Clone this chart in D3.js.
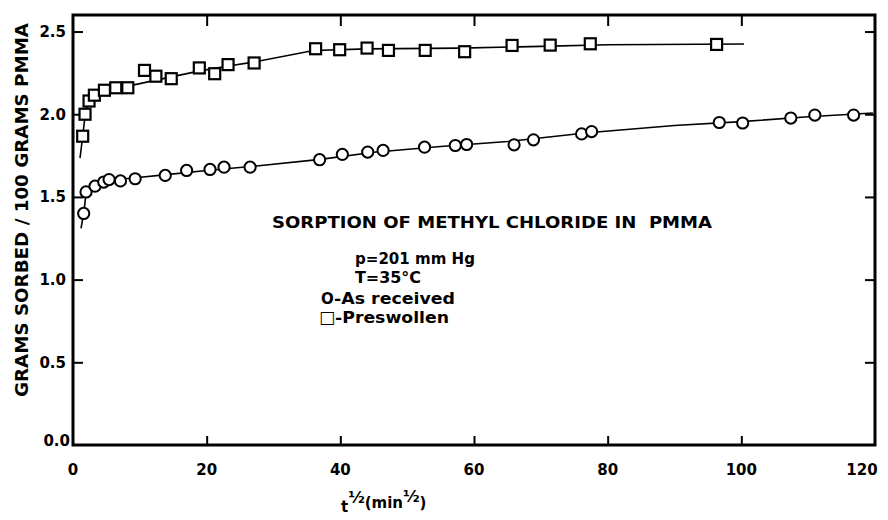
<!DOCTYPE html>
<html>
<head>
<meta charset="utf-8">
<script src="https://cdn.jsdelivr.net/npm/d3@7"></script>
<style>
  html, body { margin: 0; padding: 0; background: #fff; }
  svg { display: block; }
  text, tspan { font-family: "DejaVu Sans", sans-serif; fill: #000; }
</style>
</head>
<body>
<div id="chart"></div>
<script>
// ---- Data ----
// Circles: "As received"
const asReceivedX = [1.6, 1.95, 3.3, 4.6, 5.4, 7.1, 9.3, 13.8, 17.0, 20.5, 22.6, 26.5, 36.9, 40.3, 44.1, 46.4, 52.6, 57.2, 58.9, 66.0, 68.9, 76.1, 77.6, 96.7, 100.2, 107.4, 111.0, 116.8];
const asReceivedY = [1.40, 1.53, 1.565, 1.59, 1.605, 1.597, 1.61, 1.63, 1.66, 1.666, 1.68, 1.68, 1.725, 1.757, 1.771, 1.781, 1.801, 1.811, 1.817, 1.815, 1.845, 1.881, 1.895, 1.95, 1.947, 1.977, 1.995, 1.995];
// Squares: "Preswollen"
const preswollenX = [1.45, 1.8, 2.4, 3.2, 4.7, 6.4, 8.2, 10.7, 12.4, 14.7, 18.9, 21.2, 23.2, 27.1, 36.3, 39.9, 44.0, 47.2, 52.7, 58.6, 65.7, 71.4, 77.4, 96.3];
const preswollenY = [1.867, 2.0, 2.08, 2.115, 2.145, 2.16, 2.16, 2.265, 2.23, 2.215, 2.28, 2.245, 2.30, 2.31, 2.396, 2.39, 2.40, 2.386, 2.386, 2.378, 2.416, 2.418, 2.426, 2.422];
// Drawn curves through each series
const asReceivedCurveX = [1.2, 1.6, 1.95, 2.6, 3.3, 4.3, 5.4, 7.0, 9.0, 14.0, 20.0, 27.0, 37.0, 45.0, 55.0, 65.0, 77.0, 90.0, 100.0, 110.0, 119.7];
const asReceivedCurveY = [1.31, 1.40, 1.52, 1.55, 1.568, 1.587, 1.60, 1.607, 1.614, 1.635, 1.66, 1.685, 1.727, 1.77, 1.805, 1.835, 1.888, 1.932, 1.955, 1.985, 2.007];
const preswollenCurveX = [1.05, 1.45, 1.8, 2.1, 2.4, 3.2, 4.7, 7.0, 10.0, 14.0, 19.0, 23.0, 27.0, 36.0, 44.0, 58.0, 70.0, 80.0, 100.4];
const preswollenCurveY = [1.735, 1.867, 1.99, 2.045, 2.075, 2.113, 2.143, 2.16, 2.185, 2.22, 2.262, 2.29, 2.315, 2.385, 2.395, 2.40, 2.41, 2.42, 2.425];
// Axes
const xTicks = [0, 20, 40, 60, 80, 100, 120];
const yTicks = [0.0, 0.5, 1.0, 1.5, 2.0, 2.5];
const yTickLabels = ["0.0", "0.5", "1.0", "1.5", "2.0", "2.5"];
const titleText = "SORPTION OF METHYL CHLORIDE IN  PMMA";
const legendSymbols = ["", "", "O", "□"];
const legendLines = ["p=201 mm Hg", "T=35°C", "-As received", "-Preswollen"];
const yAxisTitle = "GRAMS SORBED / 100 GRAMS PMMA";

// ---- Layout ----
const W = 888, H = 520;
const pL = 73, pR = 875, pT = 15, pB = 445;

const svg = d3.select("#chart").append("svg").attr("width", W).attr("height", H);

const x = d3.scaleLinear().domain([0, 120]).range([pL, pR]);
const y = d3.scaleLinear().domain([0, 2.6]).range([pB, pT]);

// frame
svg.append("rect")
  .attr("x", pL).attr("y", pT)
  .attr("width", pR - pL).attr("height", pB - pT)
  .attr("fill", "none").attr("stroke", "#000").attr("stroke-width", 3);

// inner ticks via d3 axes
const innerTicksX = xTicks.filter(d => d > 0 && d < 120);
const innerTicksY = yTicks.filter(d => d > 0);

const bottomAxis = d3.axisTop(x).tickValues(innerTicksX).tickSize(9).tickFormat("");
svg.append("g").attr("transform", `translate(0,${pB})`).call(bottomAxis)
  .call(g => g.select(".domain").remove())
  .selectAll("line").attr("stroke-width", 2);

const topAxis = d3.axisBottom(x).tickValues(innerTicksX).tickSize(11).tickFormat("");
svg.append("g").attr("transform", `translate(0,${pT})`).call(topAxis)
  .call(g => g.select(".domain").remove())
  .selectAll("line").attr("stroke-width", 2);

const leftAxis = d3.axisRight(y).tickValues(innerTicksY).tickSize(10).tickFormat("");
svg.append("g").attr("transform", `translate(${pL},0)`).call(leftAxis)
  .call(g => g.select(".domain").remove())
  .selectAll("line").attr("stroke-width", 2);

const rightAxis = d3.axisLeft(y).tickValues(innerTicksY).tickSize(10).tickFormat("");
svg.append("g").attr("transform", `translate(${pR},0)`).call(rightAxis)
  .call(g => g.select(".domain").remove())
  .selectAll("line").attr("stroke-width", 2);

// tick labels
svg.append("g").selectAll("text").data(xTicks).join("text")
  .attr("x", d => d === 120 ? 862 : x(d)).attr("y", 475)
  .attr("text-anchor", "middle")
  .attr("font-size", 15).attr("font-weight", "bold")
  .text(d => d);

svg.append("g").selectAll("text").data(yTicks).join("text")
  .attr("x", (d, i) => i === 0 ? 70 : 66)
  .attr("y", (d, i) => i === 0 ? y(d) - 4 : y(d))
  .attr("dy", "0.36em")
  .attr("text-anchor", "end")
  .attr("font-size", 15)
  .attr("font-weight", "bold")
  .text((d, i) => yTickLabels[i]);

// y axis title
svg.append("text")
  .attr("transform", `translate(28,210) rotate(-90)`)
  .attr("text-anchor", "middle")
  .attr("font-size", 17).attr("font-weight", "bold")
  .attr("textLength", 374).attr("lengthAdjust", "spacingAndGlyphs")
  .text(yAxisTitle);

// x axis title: t^1/2 (min^1/2)
const xt = svg.append("text").attr("x", 341).attr("y", 512)
  .attr("font-size", 15).attr("font-weight", "bold");
xt.append("tspan").text("t");
xt.append("tspan").attr("dy", -9).attr("font-size", 16).text("½");
xt.append("tspan").attr("dy", 5).attr("font-size", 15).text("(min");
xt.append("tspan").attr("dy", -6).attr("font-size", 16).text("½");
xt.append("tspan").attr("dy", 6).attr("font-size", 15).text(")");

// curves
const line = d3.line().x(d => x(d[0])).y(d => y(d[1]));
svg.append("path")
  .datum(preswollenCurveX.map((v, i) => [v, preswollenCurveY[i]]))
  .attr("d", line).attr("fill", "none").attr("stroke", "#000").attr("stroke-width", 1.6)
  .attr("stroke-linejoin", "round");
svg.append("path")
  .datum(asReceivedCurveX.map((v, i) => [v, asReceivedCurveY[i]]))
  .attr("d", line).attr("fill", "none").attr("stroke", "#000").attr("stroke-width", 1.6)
  .attr("stroke-linejoin", "round");

// markers
const sq = 11;
svg.append("g").selectAll("rect")
  .data(preswollenX.map((v, i) => [v, preswollenY[i]]))
  .join("rect")
  .attr("x", d => x(d[0]) - sq / 2).attr("y", d => y(d[1]) - sq / 2)
  .attr("width", sq).attr("height", sq)
  .attr("fill", "#fff").attr("stroke", "#000").attr("stroke-width", 2.2);

svg.append("g").selectAll("circle")
  .data(asReceivedX.map((v, i) => [v, asReceivedY[i]]))
  .join("circle")
  .attr("cx", d => x(d[0])).attr("cy", d => y(d[1])).attr("r", 5.6)
  .attr("fill", "#fff").attr("stroke", "#000").attr("stroke-width", 2);

// annotation title
svg.append("text").attr("x", 272).attr("y", 228)
  .attr("font-size", 15).attr("font-weight", "bold")
  .attr("textLength", 440).attr("lengthAdjust", "spacingAndGlyphs")
  .style("white-space", "pre")
  .text(titleText);

// legend block
const legendX = [355, 355, 321, 319];
const legendY = [264, 283, 304, 323];
const legendLen = [120, 66, 121, 114];
const lg = svg.append("g").selectAll("text").data(legendLines).join("text")
  .attr("x", (d, i) => legendX[i]).attr("y", (d, i) => legendY[i])
  .attr("font-size", 15).attr("font-weight", "bold");
lg.each(function (d, i) {
  const t = d3.select(this);
  if (legendSymbols[i]) {
    t.append("tspan")
      .attr("font-size", legendSymbols[i] === "□" ? 17 : 15)
      .attr("font-weight", legendSymbols[i] === "□" ? "normal" : "bold")
      .style("fill", "#000")
      .text(legendSymbols[i]);
  }
  t.append("tspan")
    .attr("textLength", legendLen[i]).attr("lengthAdjust", "spacingAndGlyphs")
    .text(d);
});
</script>
</body>
</html>
